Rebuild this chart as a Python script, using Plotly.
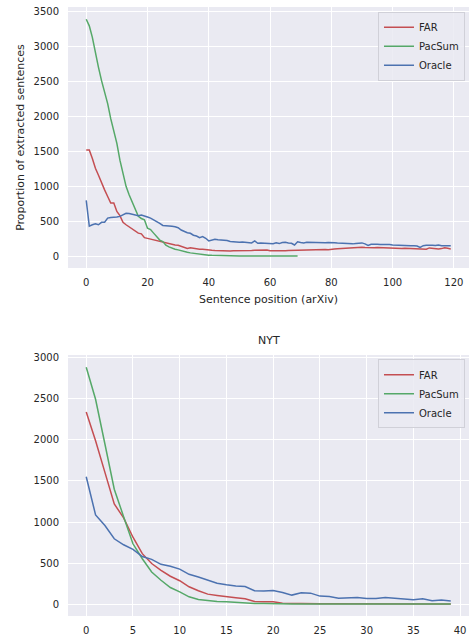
import plotly.graph_objects as go
from plotly.subplots import make_subplots

# ---- arXiv panel data ----
arxiv_far = [1520, 1520, 1400, 1260, 1160, 1045, 950, 855, 760, 760, 640, 580, 485, 450, 420, 380, 350, 330, 320, 265,
             255, 245, 235, 225, 205, 195, 185, 175, 168, 160, 157, 140, 123, 109, 120, 110, 108, 100, 98, 90,
             85, 83, 80, 78, 75, 72, 71, 74, 77, 76, 78, 75, 80, 82, 81, 84, 85, 83, 86, 88,
             78, 76, 80, 79, 78, 76, 80, 82, 84, 86, 88, 85, 87, 90, 88, 92, 95, 93, 96, 92,
             100, 102, 105, 108, 112, 118, 120, 116, 122, 126, 128, 124, 120, 119, 122, 125, 123, 120, 118, 115,
             112, 108, 106, 110, 114, 112, 110, 106, 104, 108, 102, 100, 118, 110, 106, 104, 108, 120, 112, 104]
arxiv_pacsum = [3395, 3300, 3135, 2895, 2705, 2515, 2350, 2185, 1970, 1780, 1615, 1375, 1190, 1000, 880, 770, 665, 570, 540, 520,
                400, 380, 330, 275, 230, 210, 157, 133, 114, 100, 90, 76, 66, 55, 47, 40, 33, 28, 24, 18,
                14, 12, 10, 8, 7, 6, 5, 5, 4, 4, 3, 3, 3, 2, 2, 2, 2, 2, 1, 1,
                1, 1, 1, 1, 1, 1, 1, 1, 1, 1]
arxiv_oracle = [800, 430, 450, 465, 450, 485, 485, 545, 555, 555, 560, 570, 595, 615, 610, 600, 600, 580, 590, 580,
                560, 545, 520, 505, 470, 440, 432, 430, 427, 420, 408, 375, 350, 335, 327, 300, 289, 266, 280, 256,
                218, 228, 242, 235, 232, 225, 223, 210, 204, 199, 201, 204, 200, 195, 190, 218, 185, 190, 188, 190,
                185, 178, 190, 180, 195, 200, 190, 185, 160, 205, 195, 190, 200, 198, 196, 200, 198, 188, 192, 195,
                198, 192, 188, 185, 180, 180, 178, 176, 182, 188, 190, 176, 155, 170, 175, 172, 168, 170, 170, 168,
                160, 160, 155, 155, 150, 152, 150, 148, 145, 125, 150, 155, 160, 155, 152, 160, 148, 150, 152, 150]

# ---- NYT panel data ----
nyt_far = [2340, 1990, 1605, 1220, 1050, 815, 615, 495, 412, 340, 285, 211, 163, 122, 106, 89, 77, 65, 33, 28,
           28, 12, 8, 6, 5, 5, 4, 4, 3, 3, 3, 3, 3, 3, 3, 3, 3, 3, 3, 3]
nyt_pacsum = [2885, 2495, 1950, 1400, 1065, 735, 553, 392, 291, 202, 150, 89, 57, 41, 33, 28, 20, 12, 8, 8,
              4, 3, 3, 2, 2, 2, 2, 2, 1, 1, 1, 1, 1, 1, 1, 1, 1, 1, 1, 1]
nyt_oracle = [1551, 1087, 957, 796, 723, 667, 580, 545, 485, 462, 427, 363, 330, 295, 255, 235, 220, 215, 163, 160,
              167, 142, 110, 138, 134, 98, 93, 73, 73, 81, 69, 69, 81, 69, 57, 53, 65, 41, 49, 37]

series_names = ["FAR", "PacSum", "Oracle"]
colors = ["#C44E52", "#55A868", "#4C72B0"]

arxiv_x_ticks = [0, 20, 40, 60, 80, 100, 120]
arxiv_y_ticks = [0, 500, 1000, 1500, 2000, 2500, 3000, 3500]
nyt_x_ticks = [0, 5, 10, 15, 20, 25, 30, 35, 40]
nyt_y_ticks = [0, 500, 1000, 1500, 2000, 2500, 3000]

TXT = "#262626"
FONT = "DejaVu Sans"

fig = make_subplots(rows=2, cols=1)

for name, col, vals in zip(series_names, colors, [arxiv_far, arxiv_pacsum, arxiv_oracle]):
    fig.add_trace(go.Scatter(x=list(range(len(vals))), y=vals, mode="lines", name=name,
                             line=dict(color=col, width=1.5), legend="legend"), row=1, col=1)
for name, col, vals in zip(series_names, colors, [nyt_far, nyt_pacsum, nyt_oracle]):
    fig.add_trace(go.Scatter(x=list(range(len(vals))), y=vals, mode="lines", name=name,
                             line=dict(color=col, width=1.5), legend="legend2"), row=2, col=1)

axis_common = dict(showgrid=True, gridcolor="white", gridwidth=1, zeroline=False, showline=False,
                   ticks="", tickfont=dict(size=10, color=TXT, family=FONT))

fig.update_xaxes(**axis_common)
fig.update_yaxes(**axis_common)

fig.update_layout(
    xaxis=dict(domain=[0, 1], range=[-5.95, 124.95], tickvals=arxiv_x_ticks, ticklabelstandoff=7,
               title=dict(text="Sentence position (arXiv)", font=dict(size=11, color=TXT, family=FONT), standoff=8)),
    yaxis=dict(domain=[0.5714, 1.0], range=[-170, 3570], tickvals=arxiv_y_ticks, ticklabelstandoff=8,
               title=dict(text="Proportion of extracted sentences", font=dict(size=11, color=TXT, family=FONT), standoff=6)),
    xaxis2=dict(domain=[0, 1], range=[-1.95, 40.95], tickvals=nyt_x_ticks, ticklabelstandoff=7),
    yaxis2=dict(domain=[0, 0.4286], range=[-144.5, 3034.5], tickvals=nyt_y_ticks, ticklabelstandoff=8),
    plot_bgcolor="#EAEAF2",
    paper_bgcolor="white",
    width=469, height=638,
    margin=dict(l=68, r=0, t=7, b=22),
    font=dict(family=FONT, color=TXT, size=10),
    legend=dict(x=0.99, y=0.992, xanchor="right", yanchor="top", bgcolor="rgba(234,234,242,0.85)",
                bordercolor="#D0D0D8", borderwidth=1, font=dict(size=10, color=TXT, family=FONT),
                itemwidth=30, tracegroupgap=0),
    legend2=dict(x=0.99, y=0.4215, xanchor="right", yanchor="top", bgcolor="rgba(234,234,242,0.85)",
                 bordercolor="#D0D0D8", borderwidth=1, font=dict(size=10, color=TXT, family=FONT),
                 itemwidth=30, tracegroupgap=0),
    annotations=[dict(text="NYT", xref="paper", yref="paper", x=0.5, y=0.4286, yshift=6,
                      xanchor="center", yanchor="bottom", showarrow=False,
                      font=dict(size=11, color=TXT, family=FONT))],
)

fig.write_html("out.html")
